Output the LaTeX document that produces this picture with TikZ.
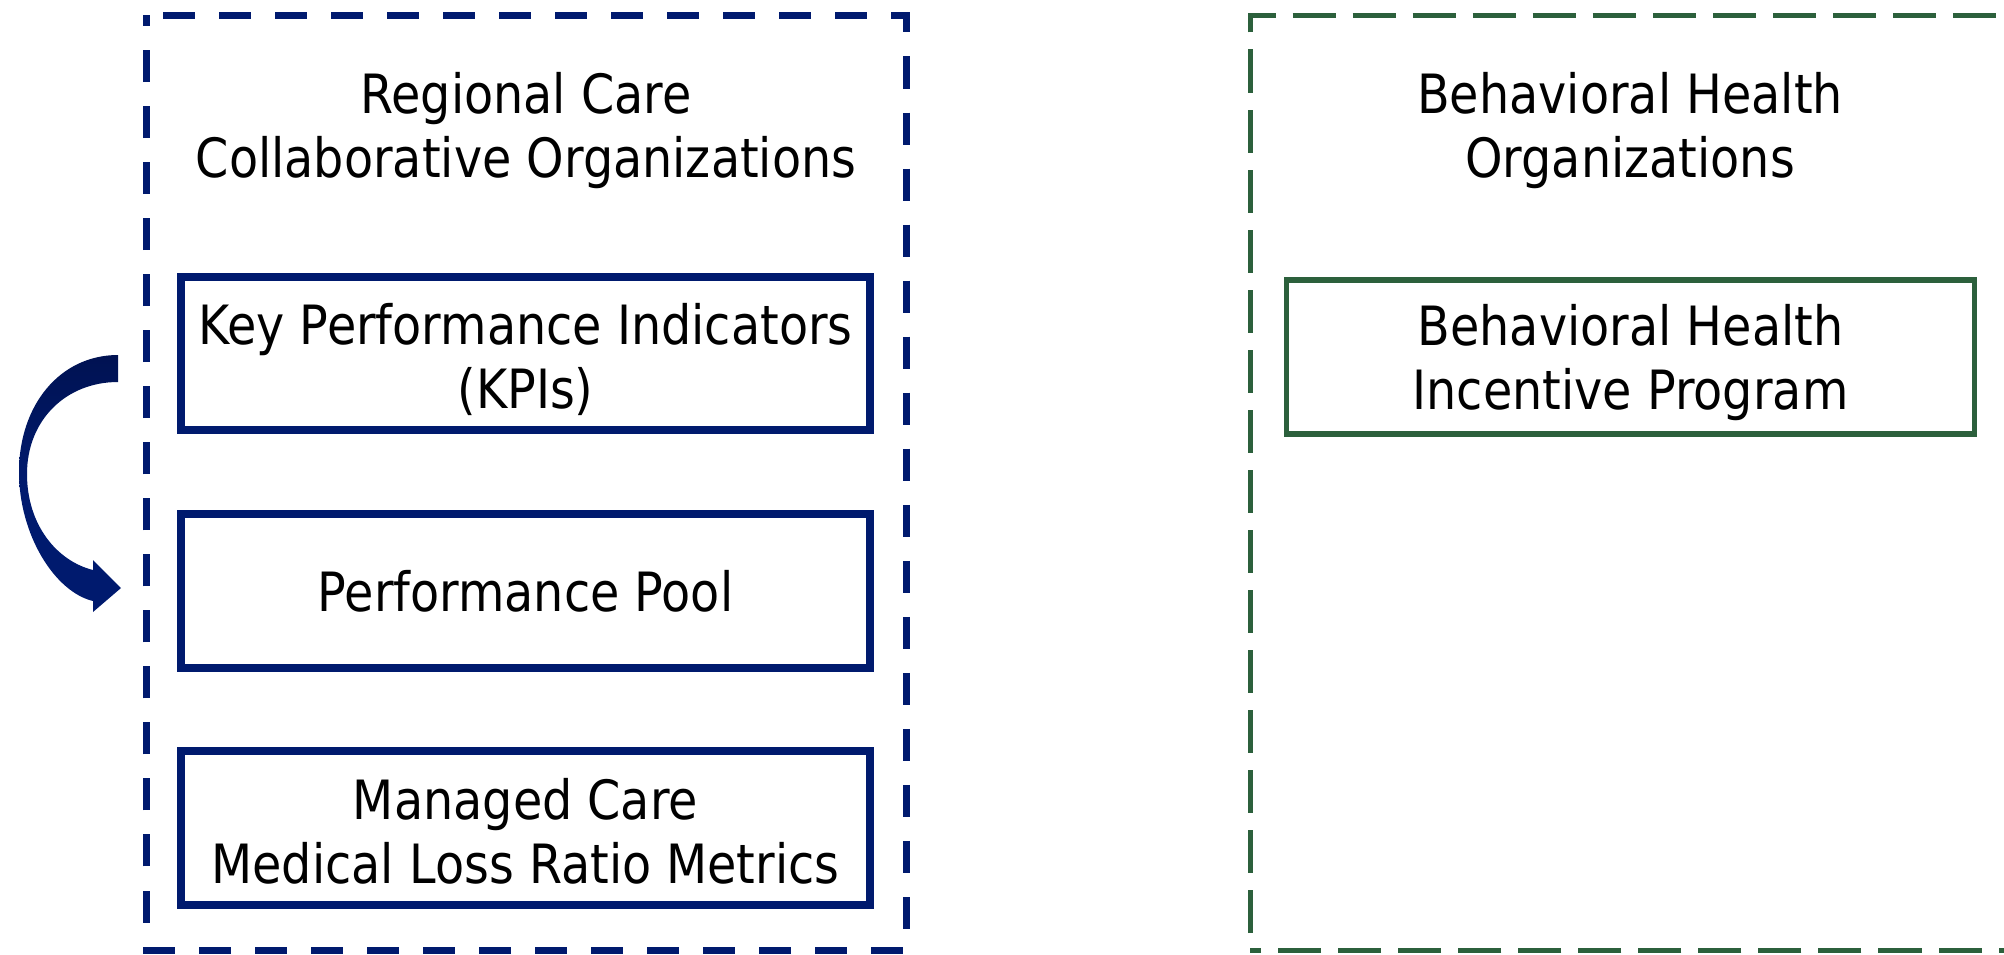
\documentclass[tikz,border=0pt]{standalone}
\usepackage{fontspec}
\setmainfont[FakeStretch=0.88]{DejaVu Sans}
\definecolor{navy}{RGB}{0,26,110}
\definecolor{navydark}{RGB}{0,18,82}
\definecolor{bhgreen}{RGB}{44,96,60}
\begin{document}
\begin{tikzpicture}[x=0.01cm,y=-0.01cm,
  lbl/.style={font=\fontsize{15.4}{18.2}\selectfont, align=center, inner sep=0pt},
  bluebox/.style={draw=navy, line width=0.08cm, minimum width=6.89cm, minimum height=1.53cm, inner sep=0pt},
  greenbox/.style={draw=bhgreen, line width=0.055cm, minimum width=6.88cm, minimum height=1.54cm, inner sep=0pt},
  bluedash/.style={draw=navy, line width=0.07cm, dash pattern=on 0.32cm off 0.24cm, dash phase=0.39cm},
  greendash/.style={draw=bhgreen, line width=0.05cm, dash pattern=on 0.43cm off 0.17cm, dash phase=0.43cm}]
\useasboundingbox (0,0) rectangle (2004,954);
\clip (0,0) rectangle (2004,954);
% containers
\draw[bluedash] (146,15) -- (906,15) -- (906,950) -- (146,950) -- cycle;
\draw[greendash] (1250,950) -- (1250,15) -- (2010,15) -- (2010,950) -- cycle;
% titles
\node[lbl] (rcotitle) at (526,131) {Regional Care\\Collaborative Organizations};
\node[lbl] (bhotitle) at (1630,131) {Behavioral Health\\Organizations};
% boxes
\node[bluebox] (kpi) at (525.5,353.5) {};
\node[lbl] (kpitext) at ([yshift=-0.06cm]kpi.center) {Key Performance Indicators\\(KPIs)};
\node[bluebox] (pool) at (525.5,591) {};
\node[lbl] (pooltext) at (pool.center) {Performance Pool};
\node[bluebox] (mlr) at (525.5,828) {};
\node[lbl] (mlrtext) at ([yshift=-0.03cm]mlr.center) {Managed Care\\Medical Loss Ratio Metrics};
\node[greenbox] (bhip) at (1630.5,357) {};
\node[lbl] (bhiptext) at ([yshift=-0.06cm]bhip.center) {Behavioral Health\\Incentive Program};
% curved arrow from KPIs to Performance Pool
\shade[top color=navydark, bottom color=navy, middle color=navy]
  (118,355) .. controls (60,355) and (19,405) .. (19,472)
  .. controls (19,535) and (55,592) .. (93,601)
  -- (93,612) -- (121,588) -- (93,560) -- (93,570)
  .. controls (57,561) and (27,525) .. (27,474)
  .. controls (27,420) and (66,382) .. (118,382) -- cycle;
\end{tikzpicture}
\end{document}
